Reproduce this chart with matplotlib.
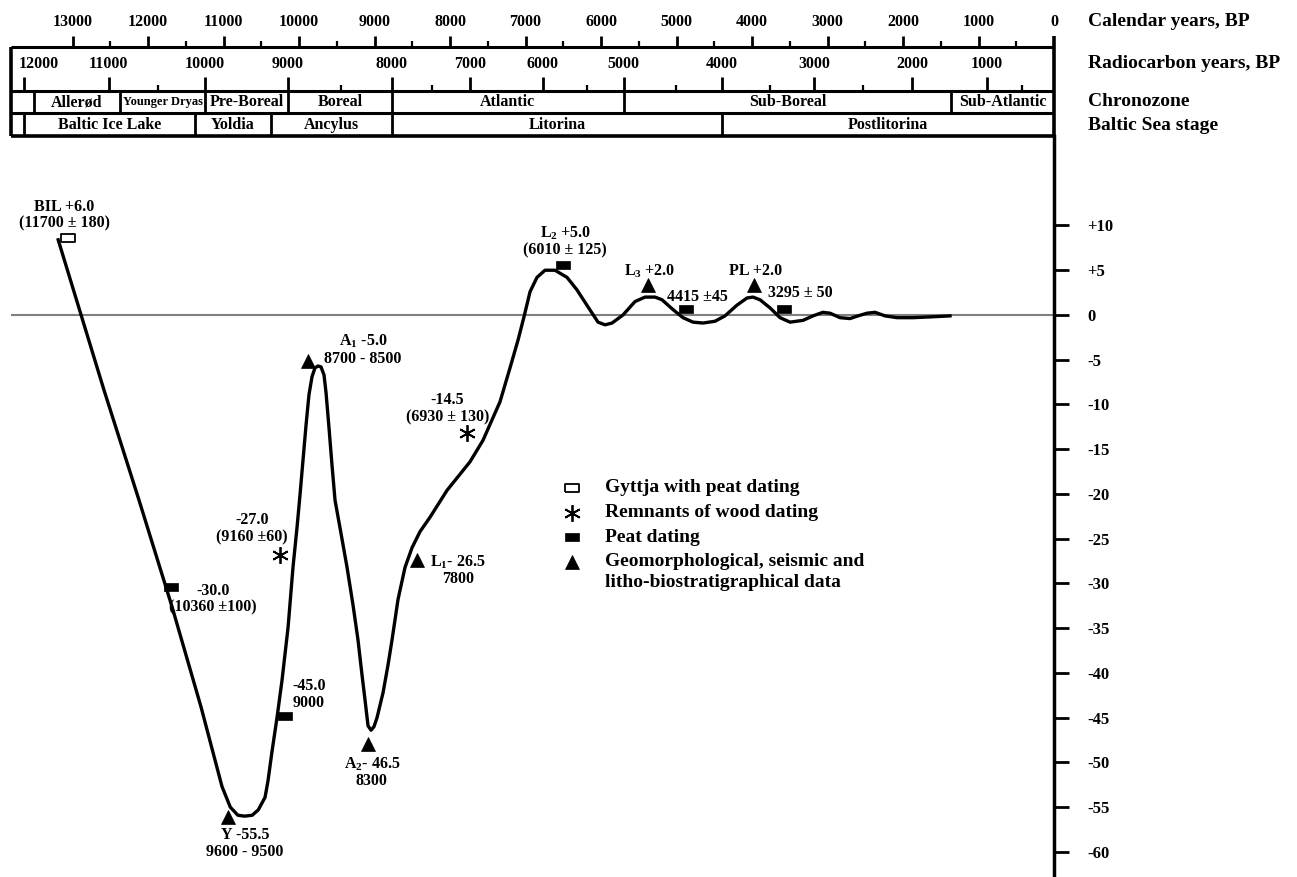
import matplotlib
matplotlib.use('Agg')
import matplotlib.pyplot as plt
from matplotlib import transforms
from matplotlib.ticker import FixedLocator, FuncFormatter

plt.rcParams['font.family'] = 'Liberation Serif'
plt.rcParams['font.weight'] = 'bold'
plt.rcParams['mathtext.fontset'] = 'custom'
plt.rcParams['mathtext.rm'] = 'Liberation Serif:bold'
plt.rcParams['mathtext.it'] = 'Liberation Serif:bold'
plt.rcParams['mathtext.bf'] = 'Liberation Serif:bold'

# relative sea level curve: calendar years BP, metres
curve_age = [13190, 12583, 12119, 11682, 11298, 11020, 10910, 10810, 10720, 10620,
             10540, 10450, 10410, 10360, 10290, 10225, 10145, 10080, 10026, 9987,
             9947, 9907, 9868, 9828, 9788, 9748, 9709, 9669, 9642, 9603,
             9563, 9523, 9444, 9364, 9285, 9219, 9166, 9126, 9086, 9046,
             9007, 8967, 8887, 8821, 8768, 8689, 8596, 8503, 8397, 8265,
             8040, 7735, 7563, 7338, 7205, 7099, 7020, 6940, 6848, 6742,
             6609, 6450, 6318, 6172, 6040, 5947, 5854, 5709, 5550, 5417,
             5285, 5192, 5046, 4914, 4781, 4649, 4490, 4358, 4199, 4066,
             3987, 3894, 3762, 3629, 3497, 3324, 3192, 3060, 2967, 2834,
             2702, 2596, 2477, 2371, 2238, 2079, 1868, 1603, 1377]
curve_level = [8.4, -8.4, -20.7, -32.6, -43.8, -52.7, -55.0, -55.9, -56.0, -55.9,
               -55.3, -53.9, -52.0, -48.9, -44.9, -40.8, -34.9, -28.2, -23.7, -20.1,
               -16.2, -12.3, -8.9, -6.9, -5.9, -5.7, -5.8, -6.7, -8.7, -12.6,
               -16.8, -20.7, -24.4, -28.2, -32.4, -36.3, -40.2, -43.0, -45.9, -46.4,
               -46.0, -45.0, -42.2, -39.1, -36.3, -31.8, -28.2, -26.0, -24.2, -22.6,
               -19.6, -16.4, -14.0, -9.7, -5.9, -2.8, -0.2, 2.6, 4.2, 5.0,
               5.0, 4.2, 2.8, 0.9, -0.8, -1.1, -0.9, 0.0, 1.5, 2.0,
               2.0, 1.7, 0.6, -0.3, -0.8, -0.9, -0.7, -0.1, 1.1, 1.9,
               2.0, 1.7, 0.8, -0.3, -0.8, -0.6, -0.1, 0.3, 0.2, -0.3,
               -0.4, -0.1, 0.2, 0.3, -0.1, -0.3, -0.3, -0.2, -0.1]

# radiocarbon ages and the calendar ages they sit at
c14_age = [12000, 11000, 10500, 10000, 9000, 8500, 8000, 7500, 7000, 6000,
           5500, 5000, 4500, 4000, 3500, 3000, 2500, 2000, 1000, 500]
c14_cal = [13640, 12520, 11870, 11250, 10150, 9440, 8770, 8240, 7740, 6770,
           6190, 5700, 5010, 4400, 3760, 3180, 2530, 1880, 890, 420]

chron_names = ['Allerød', 'Younger Dryas', 'Pre-Boreal', 'Boreal', 'Atlantic',
               'Sub-Boreal', 'Sub-Atlantic']
chron_start = [13510, 12370, 11240, 10150, 8770, 5700, 1360]
stage_names = ['Baltic Ice Lake', 'Yoldia', 'Ancylus', 'Litorina', 'Postlitorina']
stage_start = [13640, 11380, 10370, 8770, 4400]

# dated samples and indicators
pt_kind = ['gyttja', 'peat', 'wood', 'peat', 'geo', 'geo', 'geo', 'geo',
           'wood', 'peat', 'geo', 'peat', 'geo', 'peat']
pt_age = [13060, 11700, 10250, 10190, 10940, 9880, 9090, 8440,
          7780, 6500, 5380, 4870, 3970, 3580]
pt_level = [6.0, -30.0, -27.0, -45.0, -55.5, -5.0, -46.5, -26.5,
            -14.5, 5.0, 2.0, 0.7, 2.0, 0.7]
pt_label = ['BIL +6.0\n(11700 ± 180)', '-30.0\n(10360 ±100)', '-27.0\n(9160 ±60)',
            '-45.0\n9000', 'Y -55.5\n9600 - 9500', 'A$_1$ -5.0\n8700 - 8500',
            'A$_2$- 46.5\n8300', 'L$_1$- 26.5\n7800', '-14.5\n(6930 ± 130)',
            'L$_2$ +5.0\n(6010 ± 125)', 'L$_3$ +2.0', '4415 ±45', 'PL +2.0',
            '3295 ± 50']

legend_kinds = ['gyttja', 'wood', 'peat', 'geo']
legend_text = ['Gyttja with peat dating', 'Remnants of wood dating', 'Peat dating',
               'Geomorphological, seismic and\nlitho-biostratigraphical data']

yticks = list(range(10, -61, -5))

W, H = 1297, 877
AGE_LEFT = 13815
RECT = [(-1, -0.6), (1, -0.6), (1, 0.6), (-1, 0.6), (-1, -0.6)]
STYLE = {
    'gyttja': dict(marker=RECT, ms=10, mfc='white', mec='k', mew=1.3),
    'peat': dict(marker=RECT, ms=10, mfc='k', mec='k', mew=0.5),
    'wood': dict(marker=(6, 2, 0), ms=12, mfc='none', mec='k', mew=1.3),
    'geo': dict(marker='^', ms=10.5, mfc='k', mec='k', mew=0.5),
}

fig = plt.figure(figsize=(W / 100, H / 100), dpi=100)
ax = fig.add_axes([11 / W, 0, 1043 / W, (H - 136) / H])
hd = fig.add_axes([11 / W, (H - 136) / H, 1043 / W, 136 / H])

# ---- main panel
ax.set_xlim(AGE_LEFT, 0)
ax.set_ylim(-62.8, 20.0)
for s in ['left', 'top', 'bottom']:
    ax.spines[s].set_visible(False)
ax.spines['right'].set_linewidth(2.5)
ax.set_xticks([])
ax.yaxis.tick_right()
ax.yaxis.set_major_locator(FixedLocator(yticks))
ax.yaxis.set_major_formatter(FuncFormatter(lambda v, p: '+%d' % v if v > 0 else '%d' % v))
ax.tick_params(axis='y', direction='out', length=11, width=2, pad=13, labelsize=12)

ax.axhline(0, color='#808080', lw=1.5, zorder=1)
ax.plot(curve_age, curve_level, color='k', lw=2.4, solid_joinstyle='round', zorder=2)

# marker shift / label offset, pixels
place = [(23, -4, 46, 'center'), (-4, 42, -16, 'center'), (2, -28, 28, 'center'),
         (2, 8, 23, 'left'), (-5, 17, -32, 'center'), (-1, 55, 10, 'center'),
         (-13, 4, -41, 'center'), (-8, 41, -18, 'center'), (12, -19, 36, 'center'),
         (5, 2, 29, 'center'), (12, 2, 26, 'center'), (0, 11, 12, 'center'),
         (12, 1, 26, 'center'), (0, 17, 16, 'center')]

for k, a, lv, lab, (mdy, tdx, tdy, ha) in zip(pt_kind, pt_age, pt_level, pt_label, place):
    tr = transforms.offset_copy(ax.transData, fig=fig, x=0, y=mdy, units='dots')
    ax.plot([a], [lv], ls='none', transform=tr, zorder=3, **STYLE[k])
    ax.annotate(lab, xy=(a, lv), xytext=(tdx, tdy), textcoords='offset pixels',
                ha=ha, va='center', ma=ha, fontsize=11.5, linespacing=1.05)

# legend, drawn by hand in figure pixels
for i, (k, t) in enumerate(zip(legend_kinds, legend_text)):
    y = 488 + 24.5 * i
    fig.add_artist(plt.Line2D([572 / W], [1 - y / H], ls='none',
                              transform=fig.transFigure, **STYLE[k]))
    for j, line in enumerate(t.split('\n')):
        fig.text(605 / W, 1 - (y + 21 * j) / H, line, ha='left', va='center', fontsize=14)

# ---- header: time scales and zones
hd.set_xlim(AGE_LEFT, 0)
hd.set_ylim(136, 0)
hd.axis('off')
kw = dict(color='k', clip_on=False)
hd.hlines([47, 91, 113], AGE_LEFT, 0, lw=2.2, **kw)
hd.hlines([136], AGE_LEFT, 0, lw=2.6, **kw)
hd.vlines([AGE_LEFT, 0], 47, 136, lw=2.6, **kw)
hd.vlines([0], 36, 47, lw=2.6, **kw)

for a in range(1000, 13001, 1000):
    hd.vlines(a, 36, 47, lw=2, **kw)
for a in range(500, 13001, 1000):
    hd.vlines(a, 41, 47, lw=1.6, **kw)
for a in range(0, 13001, 1000):
    hd.text(a, 22, str(a), ha='center', va='center', fontsize=11.5)

for c, a in zip(c14_age, c14_cal):
    major = c % 1000 == 0
    hd.vlines(a, 77 if major else 85, 91, lw=2 if major else 1.6, **kw)
    if major:
        if c == c14_age[0]:
            hd.annotate(str(c), xy=(a, 64), xytext=(-6, 0), textcoords='offset pixels',
                        ha='left', va='center', fontsize=11.5)
        else:
            hd.text(a, 64, str(c), ha='center', va='center', fontsize=11.5)

chron_end = chron_start[1:] + [0]
hd.vlines(chron_start, 91, 113, lw=2, **kw)
for n, s, e in zip(chron_names, chron_start, chron_end):
    fs = 9 if n == 'Younger Dryas' else 11.5
    hd.text((s + e) / 2, 102.5, n, ha='center', va='center', fontsize=fs)

stage_end = stage_start[1:] + [0]
hd.vlines(stage_start, 113, 136, lw=2, **kw)
for n, s, e in zip(stage_names, stage_start, stage_end):
    hd.text((s + e) / 2, 125, n, ha='center', va='center', fontsize=11.5)

for t, y in [('Calendar years, BP', 22), ('Radiocarbon years, BP', 63),
             ('Chronozone', 101), ('Baltic Sea stage', 125)]:
    fig.text(1088 / W, 1 - y / H, t, ha='left', va='center', fontsize=14)

fig.savefig('out.png', dpi=100)
